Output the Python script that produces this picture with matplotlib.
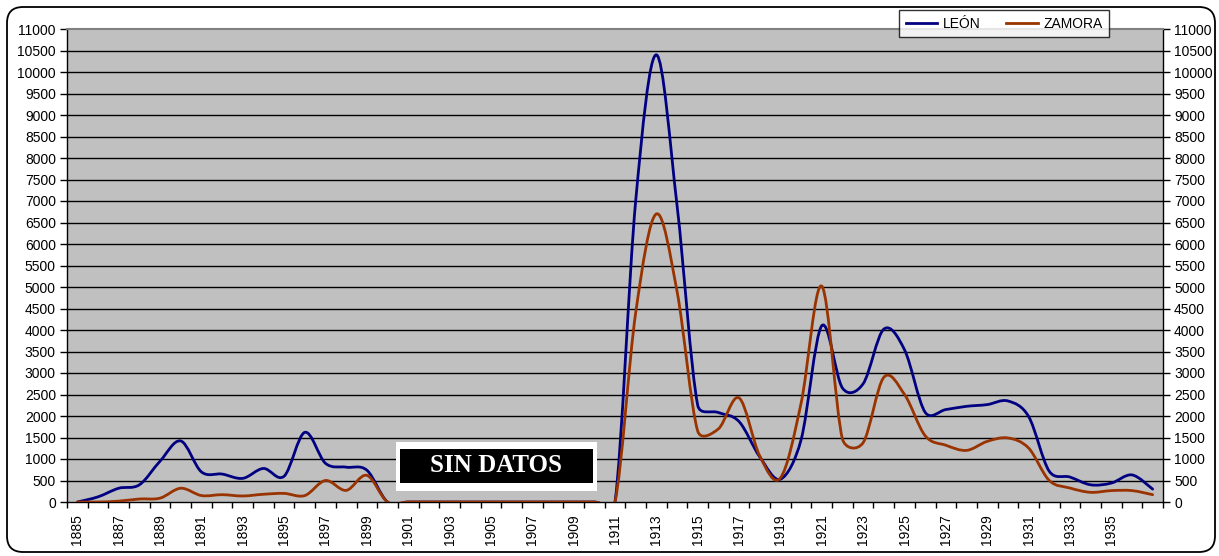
import numpy as np
import matplotlib
matplotlib.use('Agg')
import matplotlib.pyplot as plt
from matplotlib.path import Path
from matplotlib.patches import PathPatch, Rectangle, FancyBboxPatch
from matplotlib.transforms import IdentityTransform

plt.rcParams['font.family'] = ['Liberation Sans', 'DejaVu Sans']

# Data
years = list(range(1885, 1938))
leon = [0, 120, 320, 400, 950, 1420, 700, 650, 550, 780, 600, 1620, 900, 810, 740, 0,
        0, 0, 0, 0, 0, 0, 0, 0, 0, 0, 0,
        7000, 10400, 6900, 2250, 2080, 1870, 1050, 530, 1450, 4100, 2650, 2750, 4020,
        3540, 2085, 2150, 2225, 2265, 2350, 1990, 715, 580, 400, 440, 630, 300]
zamora = [0, 0, 20, 70, 90, 320, 150, 170, 140, 180, 200, 150, 500, 270, 620, 0,
          0, 0, 0, 0, 0, 0, 0, 0, 0, 0, 0,
          4400, 6700, 4900, 1650, 1700, 2420, 1070, 560, 2300, 5020, 1465, 1380, 2900,
          2500, 1540, 1320, 1200, 1410, 1490, 1255, 500, 325, 225, 265, 265, 170]
series_names = ['LEÓN', 'ZAMORA']
colors = ['#000080', '#993300']
yticks = list(range(0, 11001, 500))
xlabels = [str(y) for y in years[:-1:2]]   # 1885 ... 1935


def smooth_path(ax, x, y):
    """Excel-like smoothed line: Bezier segments, control arms limited to
    half of the neighbouring segment (worked out in screen space)."""
    trans = ax.transData
    pts = trans.transform(np.column_stack([x, y]).astype(float))
    n = len(pts)
    fwd = np.zeros_like(pts)
    bwd = np.zeros_like(pts)
    for i in range(n):
        p0 = pts[max(i - 1, 0)]
        p1 = pts[i]
        p2 = pts[min(i + 1, n - 1)]
        t = p2 - p0
        d02 = np.hypot(*t)
        d01 = np.hypot(*(p1 - p0))
        d12 = np.hypot(*(p2 - p1))
        if d02 == 0:
            fwd[i] = p1
            bwd[i] = p1
            continue
        ff = min(1 / 6, d12 / (2 * d02))
        fb = min(1 / 6, d01 / (2 * d02))
        fwd[i] = p1 + t * ff
        bwd[i] = p1 - t * fb
    verts = [pts[0]]
    codes = [Path.MOVETO]
    for i in range(n - 1):
        verts += [fwd[i], bwd[i + 1], pts[i + 1]]
        codes += [Path.CURVE4] * 3
    verts = trans.inverted().transform(np.array(verts))
    return Path(verts, codes)


fig = plt.figure(figsize=(12.19, 5.56), dpi=100)
ax = fig.add_axes([67 / 1219, 1 - 502 / 556, 1096 / 1219, 473 / 556])
ax.set_facecolor('#C0C0C0')

idx = np.arange(len(years))
ax.set_xlim(-0.5, len(years) - 0.5)
ax.set_ylim(0, 11000)

for vals, name, col in zip([leon, zamora], series_names, colors):
    ax.add_patch(PathPatch(smooth_path(ax, idx, vals), facecolor='none', edgecolor=col,
                           lw=2.0, zorder=3, capstyle='round', joinstyle='round'))
    ax.plot([], [], color=col, lw=2.0, label=name)

# horizontal gridlines
for v in yticks[1:-1]:
    ax.axhline(v, color='black', lw=1.0, zorder=1)

ax.set_yticks(yticks)
ax.tick_params(axis='y', which='major', direction='out', length=5, width=1,
               labelsize=10, pad=3, left=True, right=True, labelleft=True, labelright=True)

# x ticks between categories, labels every other year
ax.set_xticks(np.arange(-0.5, len(years), 1.0))
ax.set_xticklabels([])
ax.set_xticks(idx[:-1:2], minor=True)
ax.set_xticklabels(xlabels, minor=True, rotation=90)
ax.tick_params(axis='x', which='major', direction='out', length=4, width=1)
ax.tick_params(axis='x', which='minor', length=0, labelsize=10, pad=9)

for s in ['left', 'right', 'bottom']:
    ax.spines[s].set_color('black')
    ax.spines[s].set_linewidth(1.0)
ax.spines['top'].set_color('#808080')
ax.spines['top'].set_linewidth(1.5)

# "SIN DATOS" label box
ax.add_patch(Rectangle((396 / 1219, 1 - 491 / 556), 201 / 1219, 49 / 556,
                       transform=fig.transFigure, facecolor='white', edgecolor='none', zorder=5))
ax.add_patch(Rectangle((400 / 1219, 1 - 483 / 556), 193 / 1219, 34 / 556,
                       transform=fig.transFigure, facecolor='black', edgecolor='none', zorder=6))
fig.text(496.5 / 1219, 1 - 466 / 556, 'SIN DATOS', color='white', fontsize=18,
         fontweight='bold', family='Liberation Serif', ha='center', va='center', zorder=7)

# legend
leg = fig.legend(loc='center', bbox_to_anchor=(1004 / 1219, 1 - 23.5 / 556), ncol=2,
                 fontsize=10, frameon=True, fancybox=False, handlelength=2.3,
                 handletextpad=0.4, columnspacing=1.8, borderpad=0.5)
leg.get_frame().set_edgecolor('black')
leg.get_frame().set_linewidth(1.0)
leg.set_zorder(10)

# rounded outer border
fig.add_artist(FancyBboxPatch((7, 556 - 552), 1208, 545,
                              boxstyle='round,pad=0,rounding_size=16',
                              transform=IdentityTransform(), facecolor='none',
                              edgecolor='black', lw=1.3))

fig.savefig('out.png', dpi=100)
